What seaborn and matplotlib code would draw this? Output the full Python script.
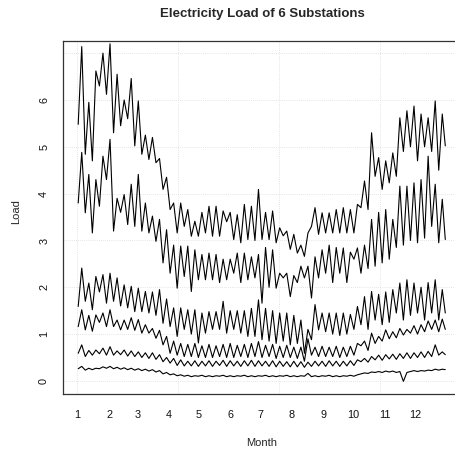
import numpy as np
import pandas as pd
import matplotlib
matplotlib.use("Agg")
import matplotlib.pyplot as plt
import seaborn as sns

# ---- data: weekly weekend-trough and weekday-peak loads per substation ----
S1_T = [5.48, 4.84, 4.70, 6.30, 6.12, 5.30, 5.45, 5.60, 5.02, 4.84, 4.73, 4.66, 4.09,
        3.66, 3.16, 3.30, 3.09, 3.09, 3.16, 3.09, 3.09, 3.40, 3.02, 2.95, 3.02, 3.00,
        3.02, 3.02, 2.95, 3.10, 2.81, 2.73, 2.66, 3.30, 3.13, 3.16, 3.16, 3.16, 3.16,
        3.16, 3.70, 3.66, 4.37, 4.09, 4.23, 4.37, 4.90, 5.00, 4.70, 5.00, 4.90, 4.50]
S1_P = [7.14, 5.95, 6.62, 7.00, 7.20, 6.55, 6.00, 6.46, 5.98, 5.25, 5.20, 4.75, 4.35,
        3.80, 3.80, 3.66, 3.41, 3.60, 3.73, 3.73, 3.63, 3.60, 3.55, 3.77, 3.73, 4.09,
        3.60, 3.63, 3.27, 3.20, 3.13, 2.90, 3.16, 3.70, 3.59, 3.59, 3.66, 3.70, 3.66,
        3.77, 4.27, 5.30, 4.77, 4.70, 4.87, 5.62, 5.77, 5.87, 5.70, 5.62, 5.98, 5.70]
S1_END = 5.02

S2_T = [3.80, 3.59, 3.16, 3.73, 4.30, 3.20, 3.60, 3.34, 3.30, 3.20, 3.16, 2.98, 2.52,
        2.30, 1.98, 2.23, 1.91, 2.16, 2.16, 2.16, 2.10, 2.16, 2.30, 2.10, 2.16, 2.20,
        1.66, 2.00, 1.98, 2.20, 1.80, 2.10, 2.20, 1.77, 2.20, 2.30, 2.10, 2.30, 2.10,
        2.60, 2.30, 2.40, 2.45, 2.52, 2.60, 2.85, 2.90, 3.00, 2.95, 3.05, 3.30, 2.95]
S2_P = [4.88, 4.41, 4.30, 4.80, 5.16, 3.90, 3.98, 4.20, 4.41, 3.80, 3.52, 3.45, 3.23,
        2.90, 2.88, 2.88, 2.80, 2.70, 2.73, 2.70, 2.60, 2.60, 2.73, 2.73, 2.65, 2.70,
        2.85, 2.80, 2.30, 2.30, 2.25, 2.45, 2.45, 2.65, 2.80, 2.90, 2.85, 2.84, 2.75,
        2.84, 2.90, 3.45, 3.60, 3.66, 3.45, 4.16, 4.16, 4.23, 4.30, 4.80, 4.20, 3.88]
S2_END = 3.02

S3_T = [1.59, 1.70, 1.52, 1.90, 1.66, 1.70, 1.60, 1.56, 1.48, 1.48, 1.45, 1.40, 1.23,
        1.16, 0.95, 1.10, 1.00, 0.81, 1.02, 1.10, 1.10, 1.02, 1.10, 1.02, 0.95, 0.95,
        0.88, 0.85, 0.80, 0.85, 0.77, 0.80, 0.59, 0.88, 1.09, 1.05, 1.00, 0.97, 1.00,
        1.10, 1.20, 1.10, 1.30, 1.20, 1.25, 1.45, 1.30, 1.40, 1.45, 1.30, 1.45, 1.30]
S3_P = [2.41, 2.09, 2.23, 2.27, 2.30, 2.20, 2.05, 2.02, 1.98, 1.91, 1.90, 1.95, 1.75,
        1.56, 1.56, 1.52, 1.52, 1.45, 1.48, 1.48, 1.70, 1.50, 1.50, 1.50, 1.55, 1.73,
        1.55, 1.50, 1.45, 1.45, 1.40, 1.30, 1.10, 1.63, 1.45, 1.45, 1.45, 1.45, 1.42,
        1.59, 1.80, 1.91, 1.85, 1.90, 1.95, 2.09, 2.16, 2.09, 2.00, 2.10, 2.16, 1.95]
S3_END = 1.45

S4_T = [1.16, 1.09, 1.06, 1.25, 1.16, 1.16, 1.09, 1.10, 1.08, 1.02, 1.02, 0.91, 0.77,
        0.59, 0.55, 0.52, 0.52, 0.50, 0.50, 0.50, 0.52, 0.50, 0.50, 0.52, 0.50, 0.52,
        0.50, 0.52, 0.48, 0.50, 0.50, 0.48, 0.42, 0.55, 0.52, 0.52, 0.52, 0.50, 0.52,
        0.55, 0.75, 0.65, 0.80, 0.85, 0.90, 0.92, 0.98, 1.02, 1.00, 1.05, 1.10, 1.05]
S4_P = [1.52, 1.40, 1.41, 1.45, 1.52, 1.30, 1.30, 1.35, 1.31, 1.20, 1.12, 1.08, 0.95,
        0.85, 0.80, 0.78, 0.80, 0.75, 0.78, 0.75, 0.78, 0.80, 0.76, 0.78, 0.80, 0.84,
        0.76, 0.78, 0.74, 0.76, 0.72, 0.72, 0.90, 0.72, 0.74, 0.72, 0.74, 0.72, 0.74,
        0.80, 0.85, 1.02, 0.95, 1.09, 1.05, 1.12, 1.10, 1.18, 1.20, 1.28, 1.30, 1.32]
S4_END = 1.10

S5_T = [0.59, 0.52, 0.55, 0.58, 0.55, 0.55, 0.56, 0.53, 0.52, 0.50, 0.48, 0.46, 0.41,
        0.38, 0.33, 0.32, 0.32, 0.31, 0.32, 0.31, 0.33, 0.31, 0.32, 0.31, 0.32, 0.31,
        0.32, 0.31, 0.30, 0.31, 0.30, 0.30, 0.29, 0.31, 0.32, 0.31, 0.32, 0.31, 0.32,
        0.33, 0.41, 0.40, 0.45, 0.44, 0.47, 0.46, 0.48, 0.48, 0.50, 0.50, 0.52, 0.55]
S5_P = [0.77, 0.65, 0.66, 0.70, 0.73, 0.64, 0.66, 0.64, 0.62, 0.60, 0.60, 0.56, 0.50,
        0.48, 0.45, 0.42, 0.43, 0.42, 0.43, 0.42, 0.44, 0.43, 0.42, 0.43, 0.44, 0.43,
        0.42, 0.43, 0.42, 0.41, 0.42, 0.41, 0.40, 0.42, 0.42, 0.43, 0.42, 0.42, 0.43,
        0.45, 0.48, 0.52, 0.55, 0.56, 0.57, 0.58, 0.60, 0.60, 0.62, 0.63, 0.77, 0.62]
S5_END = 0.56

S6_T = [0.26, 0.23, 0.24, 0.26, 0.27, 0.26, 0.25, 0.24, 0.23, 0.22, 0.21, 0.19, 0.15,
        0.13, 0.11, 0.10, 0.09, 0.10, 0.09, 0.09, 0.10, 0.09, 0.09, 0.10, 0.09, 0.09,
        0.10, 0.09, 0.09, 0.10, 0.09, 0.09, 0.10, 0.09, 0.09, 0.10, 0.09, 0.09, 0.10,
        0.10, 0.15, 0.16, 0.18, 0.18, 0.19, 0.18, -0.01, 0.20, 0.20, 0.21, 0.22, 0.23]
S6_P = [0.31, 0.27, 0.27, 0.30, 0.31, 0.29, 0.28, 0.27, 0.26, 0.25, 0.24, 0.22, 0.18,
        0.15, 0.13, 0.12, 0.11, 0.12, 0.11, 0.11, 0.12, 0.11, 0.11, 0.12, 0.11, 0.11,
        0.12, 0.11, 0.11, 0.12, 0.11, 0.11, 0.16, 0.11, 0.11, 0.12, 0.11, 0.11, 0.12,
        0.13, 0.17, 0.19, 0.20, 0.21, 0.21, 0.20, 0.18, 0.22, 0.22, 0.23, 0.25, 0.25]
S6_END = 0.24

MONTH_START_DAYS = [1, 32, 60, 91, 121, 152, 182, 213, 244, 274, 305, 335]
MONTH_LABELS = ["1", "2", "3", "4", "5", "6", "7", "8", "9", "10", "11", "12"]
Y_TICKS = [0, 1, 2, 3, 4, 5, 6]

series = {
    "S1": (S1_T, S1_P, S1_END), "S2": (S2_T, S2_P, S2_END),
    "S3": (S3_T, S3_P, S3_END), "S4": (S4_T, S4_P, S4_END),
    "S5": (S5_T, S5_P, S5_END), "S6": (S6_T, S6_P, S6_END),
}

# day-of-year positions: weekend trough then weekday peak for each week
wk = np.arange(len(S1_T))
trough_day = np.clip(7 * wk + 1.5, 1, 365)
peak_day = 7 * wk + 5.0
day_pos = np.concatenate([np.column_stack([trough_day, peak_day]).ravel(), [365.0]])

rows = []
for name, (t, p, e) in series.items():
    vals = np.concatenate([np.column_stack([t, p]).ravel(), [e]])
    rows.append(pd.DataFrame({"day": day_pos, "load": vals, "station": name}))
df = pd.concat(rows, ignore_index=True)

sns.set_style("white")
plt.rcParams["font.family"] = ["Liberation Sans", "DejaVu Sans"]

W, H = 455, 449
fig = plt.figure(figsize=(W / 100, H / 100), dpi=100)
left, right, top, bottom = 63, 460, 41, 394
ax = fig.add_axes([left / W, 1 - bottom / H, (right - left) / W, (bottom - top) / H])

# dotted grid like R's grid()
for gx in [0, 100, 200, 300]:
    ax.axvline(gx, color="#dcdcdc", ls=(0, (1, 1.5)), lw=0.6, zorder=0)
for gy in range(0, 8):
    ax.axhline(gy, color="#dcdcdc", ls=(0, (1, 1.5)), lw=0.6, zorder=0)

sns.lineplot(data=df, x="day", y="load", units="station", estimator=None,
             color="black", lw=0.8, ax=ax, sort=False, legend=False)

ax.set_xlim(-13.56, 379.56)
ax.set_ylim(-0.28, 7.26)
ax.set_xticks(MONTH_START_DAYS)
ax.set_xticklabels(MONTH_LABELS)
ax.set_yticks(Y_TICKS)
ax.set_yticklabels([str(v) for v in Y_TICKS], rotation=90, va="center")
ax.tick_params(axis="both", direction="out", length=4.5, width=0.8, colors="#111111",
               labelsize=7.8, labelcolor="#111111")
ax.tick_params(axis="x", pad=7)
ax.tick_params(axis="y", pad=5.5)
for s in ax.spines.values():
    s.set_color("#333333")
    s.set_linewidth(0.9)

ax.set_xlabel("Month", fontsize=8)
ax.set_ylabel("Load", fontsize=8)
ax.xaxis.set_label_coords(0.5, (bottom - 443) / (bottom - top))
ax.yaxis.set_label_coords((16 - left) / (right - left), (bottom - 212) / (bottom - top))
ax.xaxis.label.set_va("center")
ax.yaxis.label.set_va("center")

fig.text(262 / W, 1 - 14 / H, "Electricity Load of 6 Substations",
         ha="center", va="center", fontsize=9.5, fontweight="bold")

fig.savefig("out.png", dpi=100, facecolor="white")
